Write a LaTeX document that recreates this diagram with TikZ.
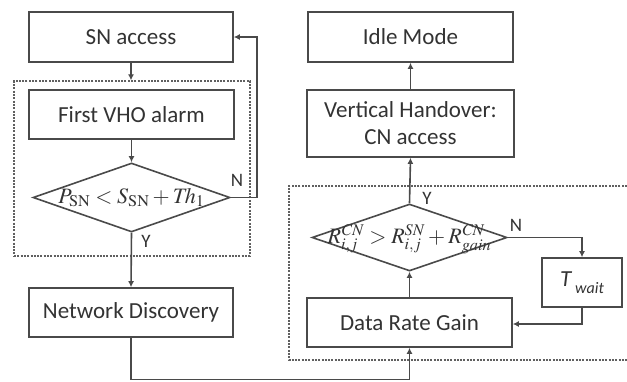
\documentclass[tikz,border=0pt]{standalone}
\usepackage{mathptmx}
\usepackage[no-math]{fontspec}
\setmainfont{Carlito}
\usetikzlibrary{arrows.meta,shapes.geometric}
\definecolor{ln}{HTML}{4A4A4A}
\definecolor{tx}{HTML}{333333}
\definecolor{dl}{HTML}{606060}
\begin{document}
\begin{tikzpicture}[x=1pt,y=-1pt,
  every node/.style={text=tx},
  box/.style={draw=ln,line width=1.6pt,rectangle,inner sep=0pt,align=center,
    font=\fontsize{23}{27}\selectfont},
  dec/.style={draw=ln,line width=1.6pt,diamond,inner sep=0pt},
  grp/.style={draw=dl,line width=1.3pt,dash pattern=on 2pt off 1.3pt},
  con/.style={draw=ln,line width=1.6pt},
  arr/.style={con,-{Latex[length=6pt,width=6pt]}},
  yn/.style={font=\fontsize{19}{21}\selectfont,inner sep=0pt}]
\useasboundingbox (0,0) rectangle (627,381);
\fill[white] (0,0) rectangle (627,381);
% groups
\node[grp,minimum width=236pt,minimum height=175pt,inner sep=0pt] (grpL) at (132,168.5) {};
\draw[grp] (627,186) -- (289,186) -- (289,360) -- (627,360);
% nodes
\node[box,minimum width=204pt,minimum height=50pt] (sn) at (131,37) {SN access};
\node[box,minimum width=205pt,minimum height=49pt] (vho) at (131.5,114.5) {First VHO alarm};
\node[dec,minimum width=197pt,minimum height=69pt] (d1) at (131.5,197.5)
  {\raisebox{-6pt}[0pt][0pt]{\makebox[0pt]{\fontsize{22}{24}\selectfont$P_{\mathrm{SN}} < S_{\mathrm{SN}} + \mathit{Th}_1$}}};
\node[box,minimum width=204pt,minimum height=49pt] (nd) at (131,312.5) {Network Discovery};
\node[box,minimum width=205pt,minimum height=50pt] (idle) at (410.5,37) {Idle Mode};
\node[box,minimum width=207pt,minimum height=67pt] (vh) at (410.5,123.5) {Vertical Handover:\\CN access};
\node[dec,minimum width=195pt,minimum height=67pt] (d2) at (409.5,237.5)
  {\raisebox{-6pt}[0pt][0pt]{\makebox[0pt]{\fontsize{22}{24}\selectfont$R^{\mathit{CN}}_{i,j} > R^{\mathit{SN}}_{i,j} + R^{\mathit{CN}}_{\mathit{gain}}$}}};
\node[box,minimum width=205pt,minimum height=49pt] (drg) at (409.5,322.5) {Data Rate Gain};
\node[box,minimum width=80pt,minimum height=49pt] (tw) at (582,282.5)
  {\itshape T\,\raisebox{-7pt}{\fontsize{16}{18}\selectfont wait}};
% connectors
\draw[arr] (sn.south) -- (sn.south |- grpL.north);
\draw[arr] (vho.south) -- (d1.north);
\draw[arr] (d1.east) -- (257,197.5) |- (sn.east);
\draw[arr] (d1.south) -- (nd.north);
\draw[arr] (nd.south) -- (131,379.5) -| (drg.south);
\draw[arr] (drg.north) -- (d2.south);
\draw[arr] (d2.north) -- (vh.south);
\draw[arr] (vh.north) -- (idle.south);
\draw[arr] (d2.east) -- (582,237.5) -- (tw.north);
\draw[arr] (tw.south) -- (582,324) -- (drg.east |- 0,324);
% labels
\node[yn] (n1) at (237,180) {N};
\node[yn] (y1) at (146,241) {Y};
\node[yn] (y2) at (427,198) {Y};
\node[yn] (n2) at (516,225) {N};
\end{tikzpicture}
\end{document}
